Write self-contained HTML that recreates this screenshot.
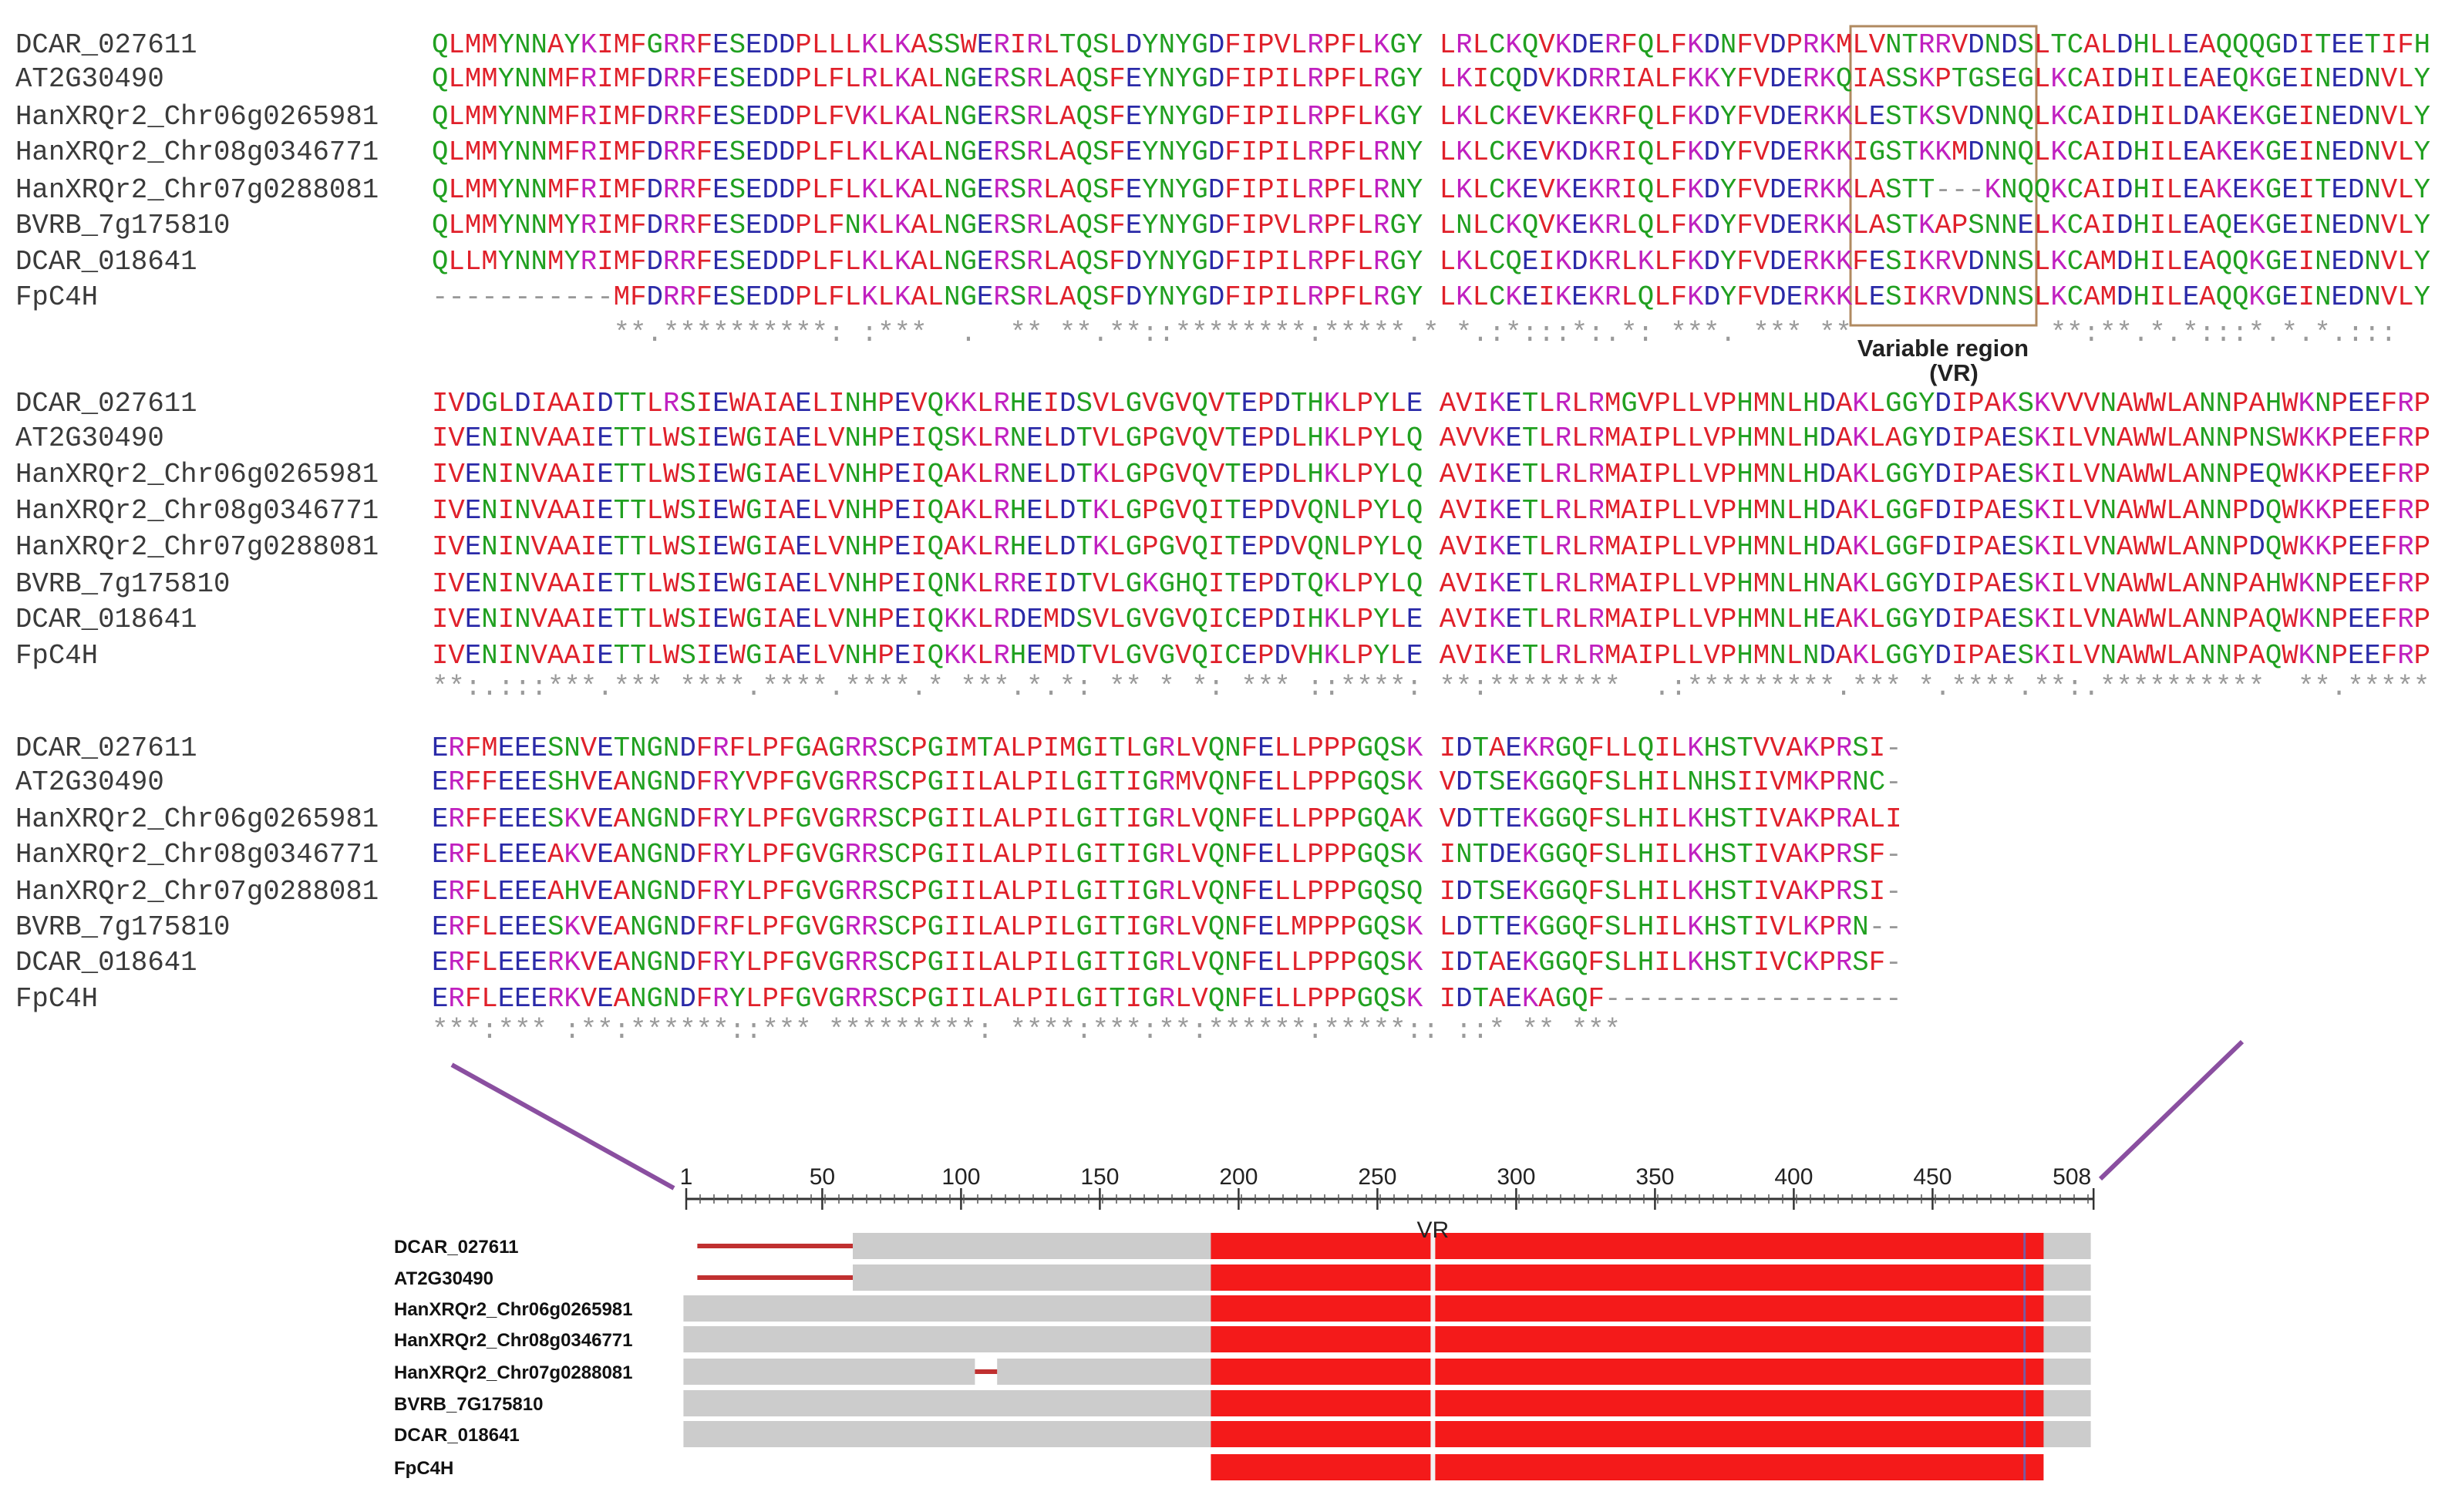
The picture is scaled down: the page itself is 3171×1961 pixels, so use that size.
<!DOCTYPE html>
<html><head><meta charset="utf-8">
<style>
html,body{margin:0;padding:0;background:#fff;}
#root{position:relative;width:3171px;height:1961px;overflow:hidden;background:#fff;}
.row{position:absolute;white-space:pre;font-family:"Liberation Mono",monospace;font-size:35.7px;line-height:40px;}
.lab{color:#3a3a3a;}
.cons{color:#9a9a9a;}
.aR{color:#e0202a}.aB{color:#2a2aa8}.aM{color:#c020c0}.aG{color:#20a020}.aX{color:#999}
</style></head>
<body><div id="root">
<svg id="overlay" width="3171" height="1961" style="position:absolute;left:0;top:0"></svg>
</div>
<script>
const names=["DCAR_027611","AT2G30490","HanXRQr2_Chr06g0265981","HanXRQr2_Chr08g0346771","HanXRQr2_Chr07g0288081","BVRB_7g175810","DCAR_018641","FpC4H"];
const block1=[
"QLMMYNNAYKIMFGRRFESEDDPLLLKLKASSWERIRLTQSLDYNYGDFIPVLRPFLKGY LRLCKQVKDERFQLFKDNFVDPRKMLVNTRRVDNDSLTCALDHLLEAQQQGDITEETIFH",
"QLMMYNNMFRIMFDRRFESEDDPLFLRLKALNGERSRLAQSFEYNYGDFIPILRPFLRGY LKICQDVKDRRIALFKKYFVDERKQIASSKPTGSEGLKCAIDHILEAEQKGEINEDNVLY",
"QLMMYNNMFRIMFDRRFESEDDPLFVKLKALNGERSRLAQSFEYNYGDFIPILRPFLKGY LKLCKEVKEKRFQLFKDYFVDERKKLESTKSVDNNQLKCAIDHILDAKEKGEINEDNVLY",
"QLMMYNNMFRIMFDRRFESEDDPLFLKLKALNGERSRLAQSFEYNYGDFIPILRPFLRNY LKLCKEVKDKRIQLFKDYFVDERKKIGSTKKMDNNQLKCAIDHILEAKEKGEINEDNVLY",
"QLMMYNNMFRIMFDRRFESEDDPLFLKLKALNGERSRLAQSFEYNYGDFIPILRPFLRNY LKLCKEVKEKRIQLFKDYFVDERKKLASTT---KNQQKCAIDHILEAKEKGEITEDNVLY",
"QLMMYNNMYRIMFDRRFESEDDPLFNKLKALNGERSRLAQSFEYNYGDFIPVLRPFLRGY LNLCKQVKEKRLQLFKDYFVDERKKLASTKAPSNNELKCAIDHILEAQEKGEINEDNVLY",
"QLLMYNNMYRIMFDRRFESEDDPLFLKLKALNGERSRLAQSFDYNYGDFIPILRPFLRGY LKLCQEIKDKRLKLFKDYFVDERKKFESIKRVDNNSLKCAMDHILEAQQKGEINEDNVLY",
"-----------MFDRRFESEDDPLFLKLKALNGERSRLAQSFDYNYGDFIPILRPFLRGY LKLCKEIKEKRLQLFKDYFVDERKKLESIKRVDNNSLKCAMDHILEAQQKGEINEDNVLY"];
const cons1="           **.**********: :***  .  ** **.**::********:*****.* *.:*:::*:.*: ***. *** **            **:**.*.*:::*.*.*.:::";
const block2=[
"IVDGLDIAAIDTTLRSIEWAIAELINHPEVQKKLRHEIDSVLGVGVQVTEPDTHKLPYLE AVIKETLRLRMGVPLLVPHMNLHDAKLGGYDIPAKSKVVVNAWWLANNPAHWKNPEEFRP",
"IVENINVAAIETTLWSIEWGIAELVNHPEIQSKLRNELDTVLGPGVQVTEPDLHKLPYLQ AVVKETLRLRMAIPLLVPHMNLHDAKLAGYDIPAESKILVNAWWLANNPNSWKKPEEFRP",
"IVENINVAAIETTLWSIEWGIAELVNHPEIQAKLRNELDTKLGPGVQVTEPDLHKLPYLQ AVIKETLRLRMAIPLLVPHMNLHDAKLGGYDIPAESKILVNAWWLANNPEQWKKPEEFRP",
"IVENINVAAIETTLWSIEWGIAELVNHPEIQAKLRHELDTKLGPGVQITEPDVQNLPYLQ AVIKETLRLRMAIPLLVPHMNLHDAKLGGFDIPAESKILVNAWWLANNPDQWKKPEEFRP",
"IVENINVAAIETTLWSIEWGIAELVNHPEIQAKLRHELDTKLGPGVQITEPDVQNLPYLQ AVIKETLRLRMAIPLLVPHMNLHDAKLGGFDIPAESKILVNAWWLANNPDQWKKPEEFRP",
"IVENINVAAIETTLWSIEWGIAELVNHPEIQNKLRREIDTVLGKGHQITEPDTQKLPYLQ AVIKETLRLRMAIPLLVPHMNLHNAKLGGYDIPAESKILVNAWWLANNPAHWKNPEEFRP",
"IVENINVAAIETTLWSIEWGIAELVNHPEIQKKLRDEMDSVLGVGVQICEPDIHKLPYLE AVIKETLRLRMAIPLLVPHMNLHEAKLGGYDIPAESKILVNAWWLANNPAQWKNPEEFRP",
"IVENINVAAIETTLWSIEWGIAELVNHPEIQKKLRHEMDTVLGVGVQICEPDVHKLPYLE AVIKETLRLRMAIPLLVPHMNLNDAKLGGYDIPAESKILVNAWWLANNPAQWKNPEEFRP"];
const cons2="**:.:::***.*** ****.****.****.* ***.*.*: ** * *: *** ::****: **:********  .:*********.*** *.****.**:.**********  **.******".slice(0,121);
const block3=[
"ERFMEEESNVETNGNDFRFLPFGAGRRSCPGIMTALPIMGITLGRLVQNFELLPPPGQSK IDTAEKRGQFLLQILKHSTVVAKPRSI-",
"ERFFEEESHVEANGNDFRYVPFGVGRRSCPGIILALPILGITIGRMVQNFELLPPPGQSK VDTSEKGGQFSLHILNHSIIVMKPRNC-",
"ERFFEEESKVEANGNDFRYLPFGVGRRSCPGIILALPILGITIGRLVQNFELLPPPGQAK VDTTEKGGQFSLHILKHSTIVAKPRALI",
"ERFLEEEAKVEANGNDFRYLPFGVGRRSCPGIILALPILGITIGRLVQNFELLPPPGQSK INTDEKGGQFSLHILKHSTIVAKPRSF-",
"ERFLEEEAHVEANGNDFRYLPFGVGRRSCPGIILALPILGITIGRLVQNFELLPPPGQSQ IDTSEKGGQFSLHILKHSTIVAKPRSI-",
"ERFLEEESKVEANGNDFRFLPFGVGRRSCPGIILALPILGITIGRLVQNFELMPPPGQSK LDTTEKGGQFSLHILKHSTIVLKPRN--",
"ERFLEEERKVEANGNDFRYLPFGVGRRSCPGIILALPILGITIGRLVQNFELLPPPGQSK IDTAEKGGQFSLHILKHSTIVCKPRSF-",
"ERFLEEERKVEANGNDFRYLPFGVGRRSCPGIILALPILGITIGRLVQNFELLPPPGQSK IDTAEKAGQF------------------"];
const cons3="***:*** :**:******::*** *********: ****:***:**:******:*****:: ::* ** ***";
// track chart data (residue positions)
const rulerTicks=[1,50,100,150,200,250,300,350,400,450,508];
const trackNames=["DCAR_027611","AT2G30490","HanXRQr2_Chr06g0265981","HanXRQr2_Chr08g0346771","HanXRQr2_Chr07g0288081","BVRB_7G175810","DCAR_018641","FpC4H"];
const grayRanges=[[[61,507]],[[61,507]],[[0,507]],[[0,507]],[[0,105],[113,507]],[[0,507]],[[0,507]],[]];
const gapLines=[[[5,61]],[[5,61]],[],[],[[105,113]],[],[],[]];
const redRange=[190,490];
const vrPos=270;
const markPos=483;

const root=document.getElementById('root');
const X0=560, CW=21.4;
function color(c){
  if("AVFPMILW".includes(c))return"aR";
  if("DE".includes(c))return"aB";
  if("RK".includes(c))return"aM";
  if("STYHCNGQ".includes(c))return"aG";
  return"aX";
}
function drawBlock(seqs,cons,centers,consY,tag){
  seqs.forEach((s,i)=>{
    const l=document.createElement('div');
    l.className='row lab';l.style.left='20px';l.style.top=(centers[i]-20)+'px';l.textContent=names[i];
    
    
    root.appendChild(l);
    const d=document.createElement('div');
    d.className='row';d.style.left=X0+'px';d.style.top=(centers[i]-20)+'px';
    d.innerHTML=s.split('').map(c=>c===' '?' ':`<span class="${color(c)}">${c}</span>`).join('');
    
    
    root.appendChild(d);
  });
  const c=document.createElement('div');
  c.className='row cons';c.style.left=X0+'px';c.style.top=(consY-20)+'px';c.textContent=cons;
  
  
  root.appendChild(c);
}
drawBlock(block1,cons1,[59,103,152,198,247,293,340,386],433,'block1');
drawBlock(block2,cons2,[524,569,616,663,710,758,804,851],892,'block2');
drawBlock(block3,cons3,[971,1015,1063,1109,1157,1203,1249,1296],1337,'block3');

const NS="http://www.w3.org/2000/svg";
const svg=document.getElementById('overlay');
function el(t,a){const e=document.createElementNS(NS,t);for(const k in a)e.setAttribute(k,a[k]);svg.appendChild(e);return e;}
let e=el('rect',{x:2400,y:34,width:241,height:388,fill:'none',stroke:'#b08a60','stroke-width':3});


e=el('rect',{x:2360,y:425,width:300,height:70,fill:'#fff'});
e=el('text',{x:2520,y:462,'font-family':'Liberation Sans, sans-serif','font-size':31,'font-weight':'bold','text-anchor':'middle',fill:'#222'});e.textContent='Variable region';


e=el('text',{x:2534,y:494,'font-family':'Liberation Sans, sans-serif','font-size':31,'font-weight':'bold','text-anchor':'middle',fill:'#222'});e.textContent='(VR)';


e=el('line',{x1:586,y1:1381,x2:874,y2:1541,stroke:'#8a4fa0','stroke-width':6});


e=el('line',{x1:2908,y1:1351,x2:2724,y2:1529,stroke:'#8a4fa0','stroke-width':6});


const xs=v=>890+(v-1)*3.6;
const RY=1555;
e=el('line',{x1:xs(1),y1:RY,x2:xs(508),y2:RY,stroke:'#333','stroke-width':3});


for(let v=1;v<=508;v+=5){el('line',{x1:xs(v),y1:RY-6,x2:xs(v),y2:RY+6,stroke:'#555','stroke-width':1.5});}
rulerTicks.forEach(v=>{
  const t=el('line',{x1:xs(v),y1:RY-14,x2:xs(v),y2:RY+14,stroke:'#333','stroke-width':2.5});
  
  
  const tx=el('text',{x:v===508?xs(v)-28:xs(v),y:1536,'font-family':'Liberation Sans Narrow, Liberation Sans, sans-serif','font-size':30,'text-anchor':'middle',fill:'#222'});
  tx.textContent=v;
  
  
});
const TC=[1616,1657,1697,1737,1779,1820,1860,1903], TH=34;
trackNames.forEach((n,i)=>{
  const y=TC[i]-TH/2;
  const lab=el('text',{x:511,y:TC[i]+9,'font-family':'Liberation Sans Narrow, Liberation Sans, sans-serif','font-size':24,'font-weight':'bold',fill:'#111'});
  lab.textContent=n;
  
  
  grayRanges[i].forEach(r=>{
    const g=el('rect',{x:xs(r[0]),y:y,width:xs(r[1])-xs(r[0]),height:TH,fill:'#cccccc'});
    
    
  });
  gapLines[i].forEach(r=>{
    const g=el('rect',{x:xs(r[0]),y:TC[i]-3,width:xs(r[1])-xs(r[0]),height:6,fill:'#c03030'});
    
    
  });
  const rr=el('rect',{x:xs(redRange[0]),y:y,width:xs(redRange[1])-xs(redRange[0]),height:TH,fill:'#f41a1a'});
  
  
  el('rect',{x:xs(vrPos)-3,y:y,width:6,height:TH,fill:'#f2f2f2'});
  el('rect',{x:xs(markPos)-1,y:y,width:3,height:TH,fill:'#7a5aa0'});
});
e=el('text',{x:xs(vrPos),y:1605,'font-family':'Liberation Sans Narrow, Liberation Sans, sans-serif','font-size':30,'text-anchor':'middle',fill:'#222'});
e.textContent='VR';


</script>
</body></html>
